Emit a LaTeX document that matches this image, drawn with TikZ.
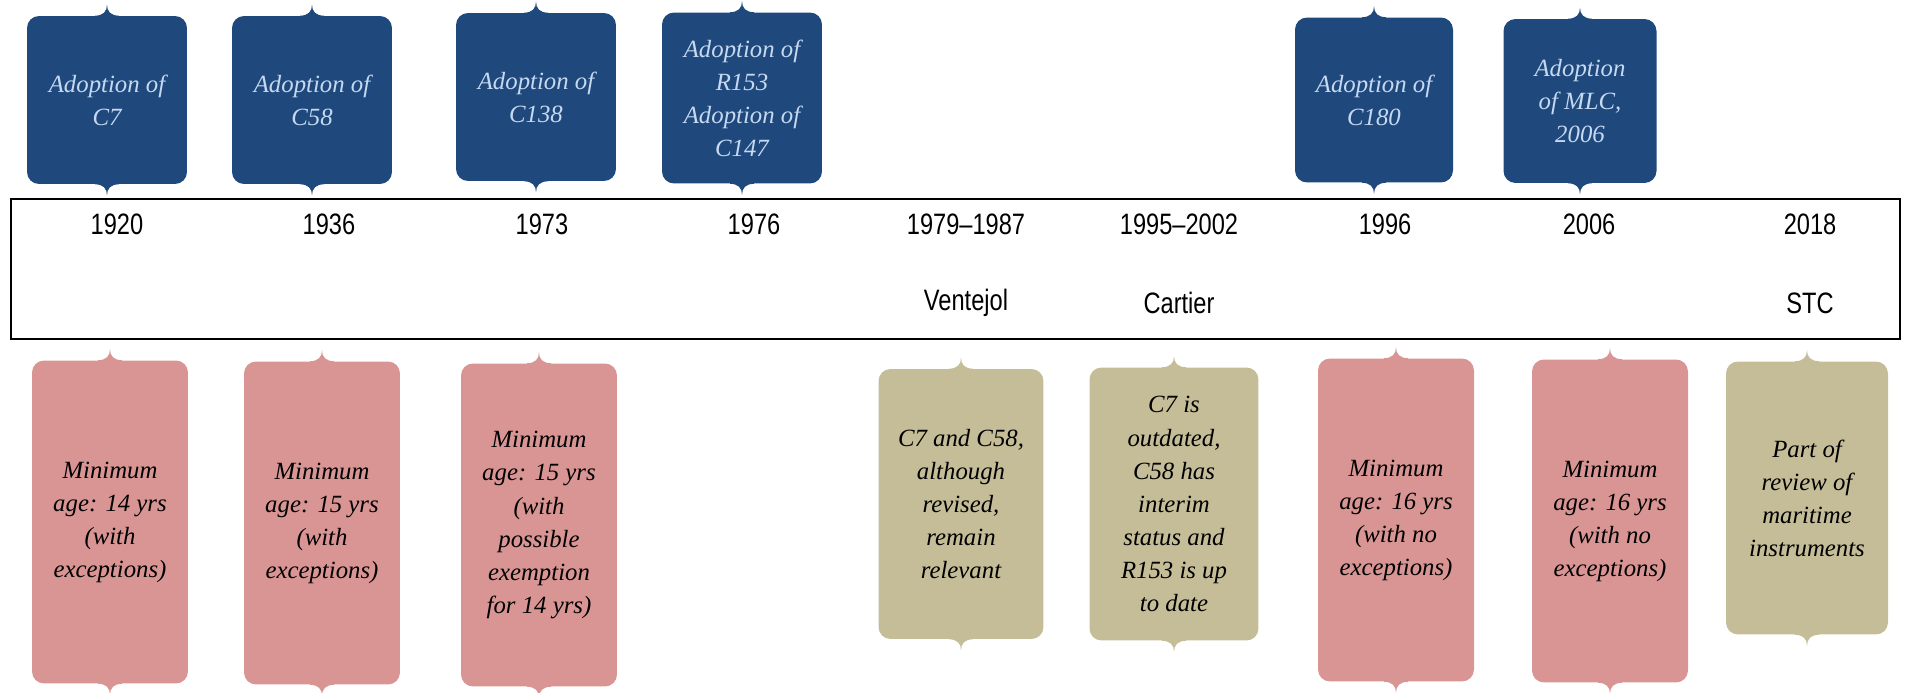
\documentclass[tikz,border=0pt]{standalone}
\usepackage{fontspec}
\setmainfont{Liberation Serif}
\newfontfamily\yearfont[FakeStretch=0.8,Ligatures=TeX]{Liberation Sans}
\definecolor{adoptblue}{HTML}{1F497D}
\definecolor{adopttext}{HTML}{C6D9F1}
\definecolor{agepink}{HTML}{D99594}
\definecolor{reviewtan}{HTML}{C4BD97}
% small brace tips on top and bottom of a callout
\newcommand\tips[2]{%
  \fill[#2] ([xshift=-0.24cm,yshift=-0.1cm]#1.north) -- ([xshift=-0.24cm]#1.north)
    .. controls +(0.16cm,0cm) and +(0cm,-0.14cm) .. ([yshift=0.22cm]#1.north)
    .. controls +(0cm,-0.14cm) and +(-0.16cm,0cm) .. ([xshift=0.24cm]#1.north)
    -- ([xshift=0.24cm,yshift=-0.1cm]#1.north) -- cycle;
  \fill[#2] ([xshift=-0.24cm,yshift=0.1cm]#1.south) -- ([xshift=-0.24cm]#1.south)
    .. controls +(0.16cm,0cm) and +(0cm,0.14cm) .. ([yshift=-0.22cm]#1.south)
    .. controls +(0cm,0.14cm) and +(-0.16cm,0cm) .. ([xshift=0.24cm]#1.south)
    -- ([xshift=0.24cm,yshift=0.1cm]#1.south) -- cycle;}
\begin{document}
\begin{tikzpicture}[x=0.02cm,y=-0.02cm,
    callout/.style={rounded corners=0.24cm,inner sep=0pt,align=center,
      font={\itshape\fontsize{14.1}{18.8}\selectfont}},
    adopt/.style={callout,fill=adoptblue,text=adopttext,minimum width=3.2cm,minimum height=3.36cm},
    age/.style={callout,fill=agepink,minimum width=3.12cm,minimum height=6.46cm},
    remark/.style={callout,fill=reviewtan,minimum width=3.3cm,minimum height=5.44cm},
    year/.style={font={\yearfont\fontsize{16.8}{20}\selectfont}}]
  \useasboundingbox (0,0) rectangle (1907,693);
  \draw [line width=1.3pt] (11,199) rectangle (1900,339);

  % years and names on the line
  \node [year] (y1920) at (117,224) {1920};
  \node [year] (y1936) at (329,224) {1936};
  \node [year] (y1973) at (542,224) {1973};
  \node [year] (y1976) at (754,224) {1976};
  \node [year] (y1979) at (966,224) {1979\textendash 1987};
  \node [year] (y1995) at (1179,224) {1995\textendash 2002};
  \node [year] (y1996) at (1385,224) {1996};
  \node [year] (y2006) at (1589,224) {2006};
  \node [year] (y2018) at (1810,224) {2018};
  \node [year] (ventejol) at (966,303) {Ventejol};
  \node [year] (cartier) at (1179,303) {Cartier};
  \node [year] (stc) at (1810,303) {STC};

  % adoptions above the line
  \node [adopt] (c7) at (107,100) {Adoption of\\C7};
  \node [adopt] (c58) at (312,100) {Adoption of\\C58};
  \node [adopt] (c138) at (536,97) {Adoption of\\C138};
  \node [adopt,minimum height=3.42cm] (c147) at (742,98) {Adoption of\\R153\\Adoption of\\C147};
  \node [adopt,minimum width=3.16cm,minimum height=3.3cm] (c180) at (1374,100) {Adoption of\\C180};
  \node [adopt,minimum width=3.06cm,minimum height=3.28cm] (mlc) at (1580,101) {Adoption\\of MLC,\\2006};
  \foreach \n in {c7,c58,c138,c147,c180,mlc} {\tips{\n}{adoptblue}}

  % ages and reviews below the line
  \node [age] (age14) at (110,522) {Minimum\\age: 14 yrs\\(with\\exceptions)};
  \node [age] (age15) at (322,523) {Minimum\\age: 15 yrs\\(with\\exceptions)};
  \node [age] (age15b) at (539,525) {Minimum\\age: 15 yrs\\(with\\possible\\exemption\\for 14 yrs)};
  \node [remark,minimum height=5.4cm] (revised) at (961,504) {C7 and C58,\\although\\revised,\\remain\\relevant};
  \node [remark,minimum width=3.38cm,minimum height=5.46cm] (outdated) at (1174,504) {C7 is\\outdated,\\C58 has\\interim\\status and\\R153 is up\\to date};
  \node [age] (age16) at (1396,520) {Minimum\\age: 16 yrs\\(with no\\exceptions)};
  \node [age] (age16b) at (1610,521) {Minimum\\age: 16 yrs\\(with no\\exceptions)};
  \node [remark,minimum width=3.24cm,minimum height=5.46cm] (maritime) at (1807,498) {Part of\\review of\\maritime\\instruments};
  \foreach \n in {age14,age15,age15b,age16,age16b} {\tips{\n}{agepink}}
  \foreach \n in {revised,outdated,maritime} {\tips{\n}{reviewtan}}
\end{tikzpicture}
\end{document}
